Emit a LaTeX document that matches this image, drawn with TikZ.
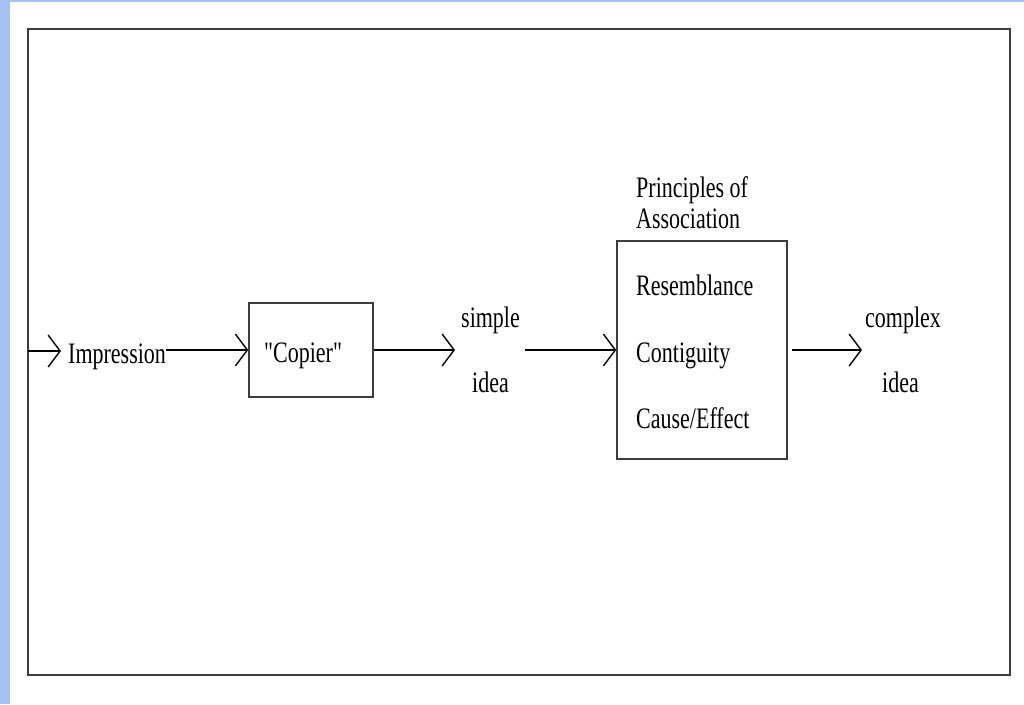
\documentclass[tikz,border=0pt]{standalone}
\usepackage{fontspec,graphicx}
\setmainfont{Liberation Serif}
\usetikzlibrary{arrows.meta}
\definecolor{sideblue}{RGB}{165,194,242}
\definecolor{framegray}{RGB}{60,60,60}
\newcommand{\tallt}[1]{\scalebox{1}[1.35]{#1}}

\begin{document}
\begin{tikzpicture}[x=1pt,y=-1pt,
    lbl/.style={font=\fontsize{22}{26}\selectfont, inner sep=0pt, anchor=base west},
    box/.style={draw=framegray, line width=1.6pt, inner sep=0pt},
    arr/.style={line width=1.4pt, -{Straight Barb[length=12pt,width=32pt]}}]
    \useasboundingbox (0,0) rectangle (1024,704);
    \fill[sideblue] (0,0) rectangle (10,704);
    \fill[sideblue] (0,0) rectangle (1024,1.5);
    \draw[framegray, line width=1.8pt] (28,29) rectangle (1010,675);
    \coordinate (start) at (28,351);
    % boxes
    \node[box, minimum width=124pt, minimum height=94pt] (copier) at (311,350) {};
    \node[box, minimum width=170pt, minimum height=218pt] (assoc) at (702,350) {};
    % texts
    \node[lbl] (imp) at (68,363) {\tallt{Impression}};
    \node[lbl] (copiertxt) at (264,362) {\tallt{\textquotedbl Copier\textquotedbl}};
    \node[lbl] (simple) at (461,327) {\tallt{simple}};
    \node[lbl] (simpleidea) at (472,392) {\tallt{idea}};
    \node[lbl] (princ) at (636,197) {\tallt{Principles of}};
    \node[lbl] (princb) at (636,228) {\tallt{Association}};
    \node[lbl] (resem) at (636,295) {\tallt{Resemblance}};
    \node[lbl] (contig) at (636,362) {\tallt{Contiguity}};
    \node[lbl] (cause) at (636,428) {\tallt{Cause/Effect}};
    \node[lbl] (complex) at (865,327) {\tallt{complex}};
    \node[lbl] (complexidea) at (882,392) {\tallt{idea}};
    % arrows
    \draw[arr] (start) -- ([xshift=-7pt]start -| imp.west);
    \draw[arr] (copier.west -| imp.east) -- (copier.west);
    \draw[arr] (copier.east) -- ([xshift=-6pt]copier.east -| simple.west);
    \draw[arr] ([xshift=5pt]assoc.west -| simple.east) -- (assoc.west);
    \draw[arr] ([xshift=4pt]assoc.east) -- ([xshift=-3pt]assoc.east -| complex.west);
\end{tikzpicture}
\end{document}
